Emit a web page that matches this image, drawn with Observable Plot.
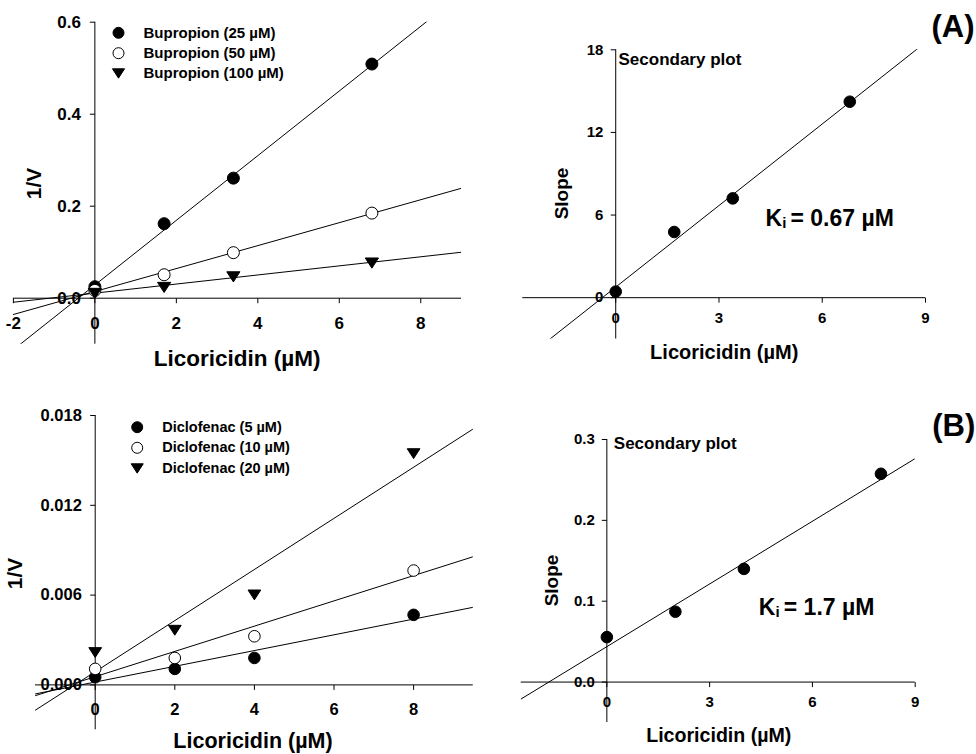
<!DOCTYPE html>
<html><head><meta charset="utf-8">
<script src="https://cdn.jsdelivr.net/npm/d3@7"></script>
<script src="https://cdn.jsdelivr.net/npm/@observablehq/plot@0.6"></script>
<style>
html,body{margin:0;padding:0;background:#fff;}
#chart{position:relative;width:976px;height:754px;overflow:hidden;background:#fff;}
#chart svg{position:absolute;overflow:visible;}
</style></head><body><div id="chart"></div>
<script>
// ---------------- DATA ----------------
// (A) Bupropion – Dixon plot
const bupLabels = ["Bupropion (25 µM)", "Bupropion (50 µM)", "Bupropion (100 µM)"];
const bupX = [0, 1.7, 3.4, 6.8];
const bup25 = [0.025, 0.162, 0.261, 0.509];
const bup50 = [0.017, 0.051, 0.099, 0.185];
const bup100 = [0.011, 0.024, 0.047, 0.077];
const bupFitSlope = [0.0703, 0.02495, 0.00988];
const bupFitIntercept = [0.0287, 0.0145, 0.011];
const bupXTicks = [-2, 0, 2, 4, 6, 8];
const bupXTickLabels = ["-2", "0", "2", "4", "6", "8"];
const bupYTicks = [0, 0.2, 0.4, 0.6];
const bupYTickLabels = ["0.0", "0.2", "0.4", "0.6"];

// (A) secondary plot
const secAX = [0, 1.7, 3.4, 6.8];
const secAY = [0.44, 4.77, 7.21, 14.23];
const secAFit = [1.974, 0.77]; // slope, intercept
const secAXTicks = [0, 3, 6, 9];
const secAXTickLabels = ["0", "3", "6", "9"];
const secAYTicks = [0, 6, 12, 18];
const secAYTickLabels = ["0", "6", "12", "18"];
const secAKi = "= 0.67 µM";

// (B) Diclofenac – Dixon plot
const dicLabels = ["Diclofenac (5 µM)", "Diclofenac (10 µM)", "Diclofenac (20 µM)"];
const dicX = [0, 2, 4, 8];
const dic5 = [0.00051, 0.00107, 0.0018, 0.00468];
const dic10 = [0.00107, 0.0018, 0.00325, 0.00764];
const dic20 = [0.00218, 0.00367, 0.00603, 0.01547];
const dicFitSlope = [0.000526, 0.000844, 0.001708];
const dicFitIntercept = [0.00019, 0.00055, 0.00088];
const dicXTicks = [0, 2, 4, 6, 8];
const dicXTickLabels = ["0", "2", "4", "6", "8"];
const dicYTicks = [0, 0.006, 0.012, 0.018];
const dicYTickLabels = ["0.000", "0.006", "0.012", "0.018"];

// (B) secondary plot
const secBX = [0, 2, 4, 8];
const secBY = [0.0556, 0.087, 0.140, 0.2576];
const secBFit = [0.02585, 0.0438];
const secBXTicks = [0, 3, 6, 9];
const secBXTickLabels = ["0", "3", "6", "9"];
const secBYTicks = [0, 0.1, 0.2, 0.3];
const secBYTickLabels = ["0.0", "0.1", "0.2", "0.3"];
const secBKi = "= 1.7 µM";

const xTitle = "Licoricidin (µM)";

// ---------------- STYLE ----------------
const FONT = "'Liberation Sans', Arial, Helvetica, sans-serif";
const triDown = {draw(ctx, size) {
  const r = Math.sqrt(size / Math.PI);
  ctx.moveTo(-1.1 * r, -0.8 * r); ctx.lineTo(1.1 * r, -0.8 * r); ctx.lineTo(0, 0.9 * r); ctx.closePath();
}};
const tickDown = {draw(ctx) { ctx.moveTo(0, 0); ctx.lineTo(0, 5); }};
const tickLeft = {draw(ctx) { ctx.moveTo(0, 0); ctx.lineTo(-5, 0); }};
const markerStyles = [
  {symbol: "circle", fill: "black", stroke: "black"},
  {symbol: "circle", fill: "white", stroke: "black"},
  {symbol: triDown, fill: "black", stroke: "black"}
];

const chart = document.getElementById("chart");

function panel(cfg) {
  const {box, frame} = cfg;
  const marginLeft = frame.left - box.left, marginTop = frame.top - box.top;
  const marginRight = box.left + box.width - frame.right, marginBottom = box.top + box.height - frame.bottom;
  const at = (px, py) => ({frameAnchor: "top-left", dx: px - frame.left, dy: py - frame.top});
  const bold = {fontWeight: "bold", fill: "black"};
  const marks = [];
  // axes crossing at origin
  marks.push(Plot.ruleY([0], {stroke: "black", strokeWidth: 1}));
  marks.push(Plot.ruleX([0], {stroke: "black", strokeWidth: 1}));
  marks.push(Plot.dot(cfg.xTicks, {x: d => d, y: () => 0, symbol: tickDown, fill: "none", stroke: "black", strokeWidth: 1}));
  marks.push(Plot.dot(cfg.yTicks, {x: () => 0, y: d => d, symbol: tickLeft, fill: "none", stroke: "black", strokeWidth: 1}));
  // fit lines
  cfg.fits.forEach(([m, b]) => {
    marks.push(Plot.line(cfg.xDomain, {x: d => d, y: d => b + m * d, stroke: "black", strokeWidth: 1, clip: true}));
  });
  // points
  cfg.series.forEach((s, i) => {
    const st = markerStyles[s.style];
    const rows = cfg.x.map((x, j) => ({x, y: s.y[j]}));
    marks.push(Plot.dot(rows, {x: "x", y: "y", r: cfg.r, symbol: st.symbol, fill: st.fill, stroke: st.stroke, strokeWidth: 1}));
  });
  // tick labels
  marks.push(Plot.text(cfg.xTicks, {x: d => d, y: () => 0, text: (d, i) => cfg.xTickLabels[i], dy: cfg.xLabelDy, fontSize: cfg.tickFont, lineAnchor: "middle", ...bold}));
  marks.push(Plot.text(cfg.yTicks, {x: () => 0, y: d => d, text: (d, i) => cfg.yTickLabels[i], dx: cfg.yLabelDx, textAnchor: "end", lineAnchor: "middle", fontSize: cfg.tickFont, ...bold}));
  // legend
  if (cfg.legend) {
    const L = cfg.legend;
    cfg.series.forEach((s, i) => {
      const st = markerStyles[s.style];
      marks.push(Plot.dot([0], {...at(L.markerX, L.rows[i]), r: L.r, symbol: st.symbol, fill: st.fill, stroke: st.stroke, strokeWidth: 1}));
      marks.push(Plot.text([s.label], {...at(L.textX, L.rows[i]), textAnchor: "start", lineAnchor: "middle", fontSize: L.font, ...bold}));
    });
  }
  // titles & annotations
  marks.push(Plot.text([xTitle], {...at(cfg.xTitle[0], cfg.xTitle[1]), textAnchor: "middle", lineAnchor: "middle", fontSize: cfg.xTitle[2], ...bold}));
  marks.push(Plot.text([cfg.yTitle[3]], {...at(cfg.yTitle[0], cfg.yTitle[1]), rotate: -90, textAnchor: "middle", lineAnchor: "middle", fontSize: cfg.yTitle[2], ...bold}));
  (cfg.notes || []).forEach(n => {
    marks.push(Plot.text([n.text], {...at(n.x, n.y), textAnchor: "start", lineAnchor: "middle", fontSize: n.size, ...bold}));
  });
  const svg = Plot.plot({
    width: box.width, height: box.height,
    marginLeft, marginTop, marginRight, marginBottom,
    x: {domain: cfg.xDomain, axis: null},
    y: {domain: cfg.yDomain, axis: null},
    style: {fontFamily: FONT, background: "transparent", overflow: "visible", color: "black"},
    marks
  });
  svg.style.left = box.left + "px";
  svg.style.top = box.top + "px";
  chart.append(svg);
}

function kiNotes(x, y, value) {
  return [
    {text: "K", x: x, y: y, size: 23},
    {text: "i", x: x + 16.8, y: y + 4, size: 15},
    {text: value, x: x + 25, y: y, size: 23}
  ];
}

panel({
  box: {left: 0, top: 0, width: 488, height: 385},
  frame: {left: 12.9, right: 461, top: 21.7, bottom: 343.7},
  xDomain: [-2, 9], yDomain: [-0.1, 0.6],
  x: bupX,
  series: [
    {label: bupLabels[0], y: bup25, style: 0},
    {label: bupLabels[1], y: bup50, style: 1},
    {label: bupLabels[2], y: bup100, style: 2}
  ],
  fits: bupFitSlope.map((m, i) => [m, bupFitIntercept[i]]),
  r: 6,
  xTicks: bupXTicks, xTickLabels: bupXTickLabels, yTicks: bupYTicks, yTickLabels: bupYTickLabels,
  tickFont: 17, xLabelDy: 25, yLabelDx: -14,
  legend: {markerX: 118, textX: 143, rows: [32.3, 52.7, 72.7], font: 15, r: 5.5},
  xTitle: [236.7, 358.3, 22.5],
  yTitle: [34, 183, 21, "1/V"]
});

panel({
  box: {left: 488, top: 0, width: 488, height: 385},
  frame: {left: 522.3, right: 925, top: 49.3, bottom: 338.5},
  xDomain: [-2.7, 9], yDomain: [-3, 18],
  x: secAX,
  series: [{label: "", y: secAY, style: 0}],
  fits: [secAFit],
  r: 5.8,
  xTicks: secAXTicks, xTickLabels: secAXTickLabels, yTicks: secAYTicks, yTickLabels: secAYTickLabels,
  tickFont: 15, xLabelDy: 21, yLabelDx: -12.3,
  xTitle: [723.7, 351.7, 20],
  yTitle: [561.7, 193, 19, "Slope"],
  notes: [
    {text: "Secondary plot", x: 618, y: 59.3, size: 17},
    {text: "(A)", x: 931, y: 27, size: 31},
    ...kiNotes(765, 218.3, secAKi)
  ]
});

panel({
  box: {left: 0, top: 385, width: 488, height: 369},
  frame: {left: 35, right: 472.8, top: 415, bottom: 729.3},
  xDomain: [-1.5, 9.5], yDomain: [-0.003, 0.018],
  x: dicX,
  series: [
    {label: dicLabels[0], y: dic5, style: 0},
    {label: dicLabels[1], y: dic10, style: 1},
    {label: dicLabels[2], y: dic20, style: 2}
  ],
  fits: dicFitSlope.map((m, i) => [m, dicFitIntercept[i]]),
  r: 5.8,
  xTicks: dicXTicks, xTickLabels: dicXTickLabels, yTicks: dicYTicks, yTickLabels: dicYTickLabels,
  tickFont: 16.5, xLabelDy: 25, yLabelDx: -13.3,
  legend: {markerX: 136.7, textX: 161.7, rows: [426.7, 447.3, 467.7], font: 14.5, r: 5.5},
  xTitle: [252.5, 741, 21.5],
  yTitle: [15, 573, 21, "1/V"]
});

panel({
  box: {left: 488, top: 385, width: 488, height: 369},
  frame: {left: 520.7, right: 914.7, top: 439, bottom: 722},
  xDomain: [-2.5, 9], yDomain: [-0.05, 0.3],
  x: secBX,
  series: [{label: "", y: secBY, style: 0}],
  fits: [secBFit],
  r: 5.8,
  xTicks: secBXTicks, xTickLabels: secBXTickLabels, yTicks: secBYTicks, yTickLabels: secBYTickLabels,
  tickFont: 15, xLabelDy: 20.6, yLabelDx: -12,
  xTitle: [718.3, 735, 19.6],
  yTitle: [551.7, 580, 19, "Slope"],
  notes: [
    {text: "Secondary plot", x: 613.3, y: 442.7, size: 17},
    {text: "(B)", x: 931.7, y: 425.5, size: 31},
    ...kiNotes(758.3, 607.5, secBKi)
  ]
});
</script>
</body></html>
